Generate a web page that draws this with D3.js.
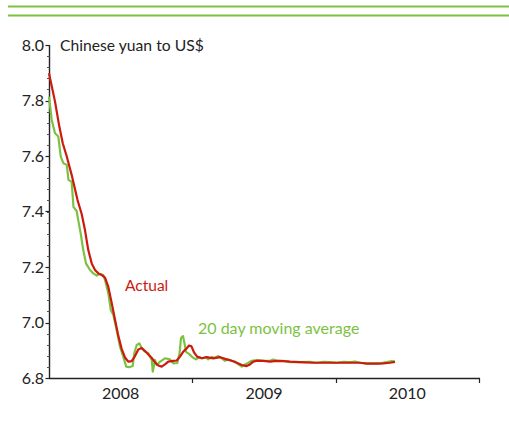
<!DOCTYPE html>
<html>
<head>
<meta charset="utf-8">
<script src="https://cdn.jsdelivr.net/npm/d3@7/dist/d3.min.js"></script>
<style>
  html, body { margin: 0; padding: 0; background: #fff; }
  svg { display: block; font-family: Lato, "Open Sans", "DejaVu Sans", sans-serif; }
</style>
</head>
<body>
<svg id="chart" width="509" height="439"></svg>
<script>
// Yuan per US dollar; time as fractional years
const actualYears = [2008.000,2008.042,2008.072,2008.096,2008.124,2008.158,2008.199,2008.228,2008.251,2008.274,
  2008.298,2008.321,2008.344,2008.368,2008.391,2008.414,2008.438,2008.461,2008.484,2008.507,
  2008.530,2008.553,2008.577,2008.600,2008.623,2008.647,2008.670,2008.693,2008.717,2008.740,
  2008.763,2008.786,2008.809,2008.832,2008.867,2008.891,2008.914,2008.937,2008.961,2008.977,
  2008.994,2009.012,2009.033,2009.065,2009.100,2009.146,2009.193,2009.240,2009.275,2009.310,
  2009.345,2009.379,2009.402,2009.425,2009.453,2009.495,2009.542,2009.589,2009.635,2009.682,
  2009.751,2009.844,2009.938,2010.030,2010.123,2010.170,2010.217,2010.286,2010.332,2010.379,2010.414];
const actualValues = [7.898,7.796,7.706,7.646,7.598,7.532,7.441,7.391,7.333,7.261,
  7.213,7.189,7.177,7.171,7.162,7.128,7.069,7.009,6.951,6.905,
  6.874,6.859,6.861,6.879,6.903,6.908,6.897,6.885,6.872,6.856,
  6.845,6.841,6.849,6.859,6.862,6.863,6.877,6.895,6.907,6.917,
  6.914,6.892,6.877,6.871,6.875,6.871,6.875,6.867,6.862,6.855,
  6.847,6.843,6.849,6.859,6.862,6.862,6.859,6.862,6.861,6.859,
  6.857,6.855,6.855,6.855,6.855,6.855,6.852,6.852,6.853,6.855,6.858];

const avgYears = [2008.000,2008.019,2008.042,2008.065,2008.082,2008.100,2008.124,2008.136,2008.158,2008.171,
  2008.193,2008.204,2008.221,2008.239,2008.258,2008.286,2008.309,2008.333,2008.356,2008.379,
  2008.391,2008.414,2008.431,2008.449,2008.472,2008.495,2008.518,2008.539,2008.560,2008.584,
  2008.595,2008.612,2008.630,2008.647,2008.670,2008.693,2008.717,2008.724,2008.740,2008.751,
  2008.775,2008.809,2008.844,2008.867,2008.895,2008.911,2008.921,2008.935,2008.945,2008.956,
  2008.979,2008.996,2009.012,2009.026,2009.049,2009.072,2009.095,2009.111,2009.135,2009.158,
  2009.181,2009.205,2009.228,2009.251,2009.275,2009.298,2009.321,2009.345,2009.368,2009.391,
  2009.414,2009.449,2009.495,2009.542,2009.565,2009.589,2009.635,2009.682,2009.751,2009.821,
  2009.868,2009.914,2009.961,2010.007,2010.053,2010.100,2010.135,2010.170,2010.217,2010.263,
  2010.309,2010.356,2010.391,2010.414];
const avgValues = [7.814,7.730,7.682,7.670,7.598,7.574,7.568,7.514,7.507,7.416,
  7.402,7.369,7.321,7.261,7.213,7.189,7.177,7.169,7.175,7.171,
  7.153,7.105,7.045,7.027,6.973,6.913,6.877,6.841,6.839,6.843,
  6.889,6.919,6.925,6.907,6.895,6.889,6.865,6.823,6.865,6.847,
  6.859,6.871,6.867,6.853,6.854,6.890,6.944,6.951,6.926,6.894,
  6.886,6.877,6.871,6.867,6.875,6.871,6.875,6.867,6.875,6.873,
  6.879,6.871,6.862,6.867,6.862,6.859,6.849,6.841,6.849,6.855,
  6.862,6.865,6.862,6.862,6.867,6.862,6.862,6.857,6.857,6.858,
  6.855,6.858,6.857,6.855,6.858,6.857,6.859,6.855,6.853,6.853,
  6.853,6.857,6.861,6.859];

const yearTicks = [2008, 2009, 2010, 2011];
const yearLabels = ["2008", "2009", "2010"];
const valueTicks = [6.8, 7.0, 7.2, 7.4, 7.6, 7.8, 8.0];

const RED = "#cc1a0e";
const GREEN = "#7cc242";
const AXIS = "#222";

const svg = d3.select("#chart");

const x = d3.scaleLinear().domain([2008, 2011]).range([49, 479]);
const y = d3.scaleLinear().domain([6.8, 8.0]).range([378, 45]);

// Header rules
svg.append("line").attr("x1", 8).attr("x2", 509).attr("y1", 6.5).attr("y2", 6.5)
  .attr("stroke", GREEN).attr("stroke-width", 1.8);
svg.append("line").attr("x1", 8).attr("x2", 509).attr("y1", 15.5).attr("y2", 15.5)
  .attr("stroke", GREEN).attr("stroke-width", 1.8);

// Y axis with minor ticks every 0.04
const minor = d3.range(6.8, 8.0001, 0.04);
const yAxisG = svg.append("g");
yAxisG.append("line").attr("x1", 49.5).attr("x2", 49.5).attr("y1", y(8.0)).attr("y2", y(6.8))
  .attr("stroke", AXIS).attr("stroke-width", 1.4);
yAxisG.selectAll("line.minor").data(minor).join("line").attr("class", "minor")
  .attr("x1", 47).attr("x2", 49.5)
  .attr("y1", d => Math.round(y(d)) + 0.5).attr("y2", d => Math.round(y(d)) + 0.5)
  .attr("stroke", "#555").attr("stroke-width", 1);
yAxisG.selectAll("line.major").data(valueTicks).join("line").attr("class", "major")
  .attr("x1", 45.5).attr("x2", 49.5)
  .attr("y1", d => Math.round(y(d)) + 0.5).attr("y2", d => Math.round(y(d)) + 0.5)
  .attr("stroke", AXIS).attr("stroke-width", 1.2);
yAxisG.selectAll("text").data(valueTicks).join("text")
  .attr("x", 44).attr("y", d => y(d)).attr("dy", "0.36em")
  .attr("text-anchor", "end").attr("font-size", 16).attr("fill", "#222")
  .text(d => d.toFixed(1));

// X axis
const xAxisG = svg.append("g");
xAxisG.append("line").attr("x1", 49).attr("x2", 480).attr("y1", 378.5).attr("y2", 378.5)
  .attr("stroke", AXIS).attr("stroke-width", 1.4);
xAxisG.selectAll("line.tick").data(yearTicks.slice(1)).join("line").attr("class", "tick")
  .attr("x1", d => Math.round(x(d)) + 0.5).attr("x2", d => Math.round(x(d)) + 0.5)
  .attr("y1", 378).attr("y2", 383)
  .attr("stroke", AXIS).attr("stroke-width", 1.2);
xAxisG.selectAll("text").data(yearLabels).join("text")
  .attr("x", d => x(+d + 0.5)).attr("y", 399)
  .attr("text-anchor", "middle").attr("font-size", 16).attr("fill", "#222")
  .text(d => d);

// Series
const line = d3.line().x(d => x(d[0])).y(d => y(d[1])).curve(d3.curveLinear);
svg.append("path").datum(d3.zip(avgYears, avgValues))
  .attr("d", line).attr("fill", "none").attr("stroke", GREEN)
  .attr("stroke-width", 2.2).attr("stroke-linejoin", "round");
svg.append("path").datum(d3.zip(actualYears, actualValues))
  .attr("d", line).attr("fill", "none").attr("stroke", RED)
  .attr("stroke-width", 2.2).attr("stroke-linejoin", "round");

// Labels
svg.append("text").attr("x", 60).attr("y", 51).attr("font-size", 15.7).attr("fill", "#222")
  .text("Chinese yuan to US$");
svg.append("text").attr("x", 125).attr("y", 291).attr("font-size", 15.5).attr("fill", RED)
  .text("Actual");
svg.append("text").attr("x", 198).attr("y", 334).attr("font-size", 16).attr("fill", GREEN)
  .text("20 day moving average");
</script>
</body>
</html>
